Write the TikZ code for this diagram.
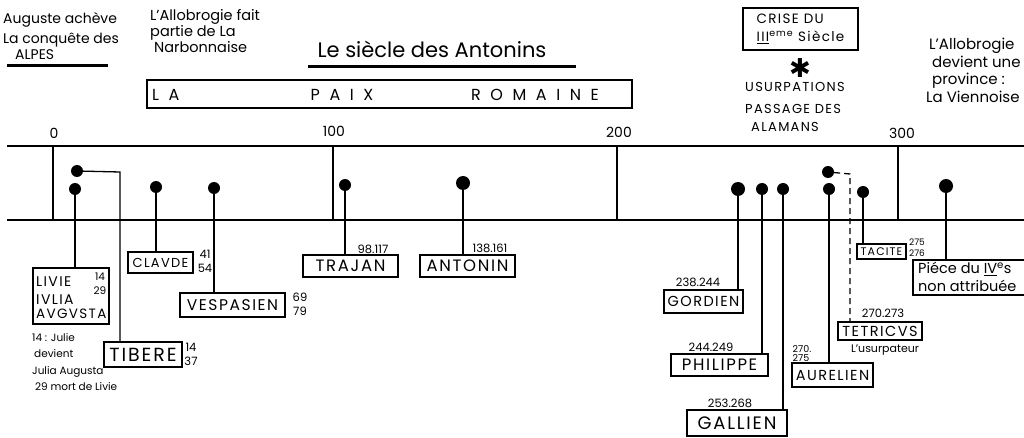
\documentclass[tikz,border=0pt]{standalone}
\usepackage{fontspec}
\setmainfont{Poppins}
\newfontfamily\spaced{Poppins}[LetterSpace=10]
\newfontfamily\wide{Poppins}[LetterSpace=60]
\newfontfamily\symfont{DejaVu Sans}
\begin{document}
\begin{tikzpicture}[x=1pt,y=-1pt,
 hand/.style={inner sep=0pt, font=\fontsize{12}{16}\selectfont, align=left},
 num/.style={inner sep=0pt, font=\fontsize{11.5}{12}\selectfont},
 year/.style={inner sep=0pt, font=\fontsize{14}{14}\selectfont},
 namebox/.style={draw, line width=1.6pt, inner sep=0pt, font=\spaced\fontsize{15}{15}\selectfont},
 dot/.style={circle, fill, inner sep=0pt, minimum size=12pt},
 stem/.style={line width=1.3pt},
 axis/.style={line width=1.4pt},
 thickline/.style={line width=3pt}]
\useasboundingbox (0,0) rectangle (1024,438);
\clip (0,0) rectangle (1024,438);

% ---------- top texts ----------
\node[hand, anchor=north west, font=\fontsize{14}{20}\selectfont] (aug) at (3,12) {Auguste achève\\La conquête des\\[-4pt]\hspace{12pt}ALPES};
\coordinate (ua) at (7,66); \coordinate (ub) at (108,66);
\draw[thickline] (ua) -- (ub);

\node[hand, anchor=north west, font=\fontsize{14.5}{16}\selectfont] (allo) at (150,9) {L'Allobrogie fait\\partie de La\\\hspace{4pt}Narbonnaise};

\node[inner sep=0pt, font=\fontsize{21}{22}\selectfont] (anton) at (432,49) {Le siècle des Antonins};
\coordinate (va) at (308,67); \coordinate (vb) at (576,67);
\draw[thickline] (va) -- (vb);

\node[draw, line width=1.2pt, minimum width=485pt, minimum height=28pt, inner sep=0pt] (paix) at (389.5,94) {};
\node[inner sep=0pt, font=\wide\fontsize{16}{16}\selectfont, anchor=west] (la) at (152,95) {LA};
\node[inner sep=0pt, font=\wide\fontsize{16}{16}\selectfont] (px) at (342,95) {PAIX};
\node[inner sep=0pt, font=\wide\fontsize{16}{16}\selectfont] (rom) at (535,95) {ROMAINE};

\node[draw, line width=1.4pt, minimum width=115pt, minimum height=42pt, inner sep=3pt, align=left, font=\spaced\fontsize{13.5}{18}\selectfont] (crise) at (800.5,29) {CRISE DU\\\underline{III}\textsuperscript{eme} Siècle};
\node[inner sep=0pt, font=\symfont\fontsize{26}{26}\selectfont] (ast) at (800,68) {✱};
\node[hand, anchor=west, font=\spaced\fontsize{13}{13}\selectfont] (usur) at (745,87) {USURPATIONS};
\node[hand, anchor=west, font=\spaced\fontsize{13}{13}\selectfont] (pass) at (745,109) {PASSAGE DES};
\node[hand, anchor=west, font=\spaced\fontsize{13}{13}\selectfont] (alam) at (751,127) {ALAMANS};

\node[hand, anchor=north west, font=\fontsize{15}{17.5}\selectfont] (vien) at (926,38) {\hspace{3pt}L'Allobrogie\\\hspace{6pt}devient une\\\hspace{6pt}province :\\La Viennoise};

% ---------- timeline ----------
\coordinate (La) at (7,146); \coordinate (Ra) at (1024,146);
\coordinate (Lb) at (7,220); \coordinate (Rb) at (1024,220);
\draw[axis] (La) -- (Ra);
\draw[axis] (Lb) -- (Rb);
\coordinate (t0) at (53,146);  \draw[axis] (t0) -- (t0 |- Lb);
\coordinate (t1) at (333,146); \draw[axis] (t1) -- (t1 |- Lb);
\coordinate (t2) at (617,146); \draw[axis] (t2) -- (t2 |- Lb);
\coordinate (t3) at (898,146); \draw[axis] (t3) -- (t3 |- Lb);
\node[year] (y0) at (54,133) {0};
\node[year] (y1) at (334,131) {100};
\node[year] (y2) at (619,132) {200};
\node[year] (y3) at (902,133) {300};

% ---------- dots ----------
\node[dot] (dliv) at (75,189) {};
\node[dot] (dtib) at (77,171) {};
\node[dot] (dcla) at (156,187) {};
\node[dot] (dves) at (214,188) {};
\node[dot] (dtra) at (345,185) {};
\node[dot, minimum size=14pt] (dant) at (463,183) {};
\node[dot, minimum size=14pt] (dgor) at (738,189) {};
\node[dot] (dphi) at (762,189) {};
\node[dot] (dgal) at (783,189) {};
\node[dot] (dtet) at (828,172) {};
\node[dot] (daur) at (829,189) {};
\node[dot] (dtac) at (863,192) {};
\node[dot, minimum size=14pt] (dpie) at (946,186) {};

% ---------- boxes ----------
\node[namebox, minimum width=76pt, minimum height=56pt] (liv) at (71,296) {};
\node[inner sep=0pt, anchor=west, font=\spaced\fontsize{14}{14}\selectfont] (liv1) at (36,282) {LIVIE};
\node[inner sep=0pt, anchor=west, font=\spaced\fontsize{14}{14}\selectfont] (liv2) at (36,300) {IVLIA};
\node[inner sep=0pt, anchor=west, font=\spaced\fontsize{13.5}{13.5}\selectfont] (liv3) at (36,314) {AVGVSTA};
\node[num, font=\fontsize{10.5}{11}\selectfont] (liva) at (100,277) {14};
\node[num, font=\fontsize{10.5}{11}\selectfont] (livb) at (100,291) {29};

\node[hand, anchor=north west, font=\fontsize{10.5}{16.5}\selectfont] (note) at (32,333) {14 : Julie\\\hspace{2pt}devient\\Julia Augusta\\\hspace{3pt}29 mort de Livie};

\node[namebox, minimum width=78pt, minimum height=25pt, font=\spaced\fontsize{19}{19}\selectfont] (tib) at (143,354.5) {TIBERE};
\node[num] (tiba) at (191,347) {14};
\node[num] (tibb) at (191,361) {37};

\node[namebox, minimum width=65pt, minimum height=21pt, font=\spaced\fontsize{13}{13}\selectfont] (cla) at (160.5,262.5) {CLAVDE};
\node[num] (claa) at (205,254) {41};
\node[num] (clab) at (205,268) {54};

\node[namebox, minimum width=105pt, minimum height=24pt, font=\spaced\fontsize{15.5}{15.5}\selectfont] (ves) at (232.5,305) {VESPASIEN};
\node[num] (vesa) at (300,297) {69};
\node[num] (vesb) at (300,311) {79};

\node[namebox, minimum width=95pt, minimum height=22pt, font=\spaced\fontsize{16.5}{16.5}\selectfont] (tra) at (350.5,266) {TRAJAN};
\node[num] (traa) at (373,249) {98.117};

\node[namebox, minimum width=95pt, minimum height=22pt, font=\spaced\fontsize{16.5}{16.5}\selectfont] (ant) at (467.5,266) {ANTONIN};
\node[num] (anta) at (490,248) {138.161};

\node[namebox, minimum width=79pt, minimum height=23pt, font=\spaced\fontsize{14.5}{14.5}\selectfont] (gor) at (703.5,301.5) {GORDIEN};
\node[num] (gora) at (698,282) {238.244};

\node[namebox, minimum width=97pt, minimum height=22pt, font=\spaced\fontsize{16.5}{16.5}\selectfont] (phi) at (719.5,365) {PHILIPPE};
\node[num] (phia) at (711,347) {244.249};

\node[namebox, minimum width=100pt, minimum height=26pt, font=\spaced\fontsize{18}{18}\selectfont] (gal) at (737,423) {GALLIEN};
\node[num] (gala) at (730,403) {253.268};

\node[namebox, minimum width=81pt, minimum height=24pt, font=\spaced\fontsize{14.5}{14.5}\selectfont] (aur) at (832.5,375) {AURELIEN};
\node[num, align=left, font=\fontsize{9.5}{9}\selectfont] (aura) at (802,354) {270.\\275};

\node[namebox, minimum width=84pt, minimum height=18pt, font=\spaced\fontsize{14.5}{14.5}\selectfont] (tet) at (880,331) {TETRICVS};
\node[num] (teta) at (883,313) {270.273};
\node[num, font=\fontsize{11}{11}\selectfont] (tetb) at (885,350) {L'usurpateur};

\node[namebox, minimum width=49pt, minimum height=15pt, font=\spaced\fontsize{11}{11}\selectfont] (tac) at (881.5,251.5) {TACITE};
\node[num, font=\fontsize{9}{9}\selectfont] (taca) at (917,242) {275};
\node[num, font=\fontsize{9}{9}\selectfont] (tacb) at (917,253) {276};

\node[draw, line width=1.6pt, minimum width=122pt, minimum height=35pt, inner sep=0pt] (pie) at (974,277.5) {};
\node[inner sep=0pt, anchor=north west, align=left, font=\fontsize{14.5}{18}\selectfont] (piet) at (918,262) {Piéce du \underline{IV}\textsuperscript{e}s\\non attribuée};

% ---------- stems ----------
\draw[stem] (dliv) -- (dliv |- liv.north);
\coordinate (ctib) at (120,172);
\draw[stem] (dtib) -- (ctib) -- (ctib |- tib.north);
\draw[stem] (dcla) -- (dcla |- cla.north);
\draw[stem] (dves) -- (dves |- ves.north);
\draw[stem] (dtra) -- (dtra |- tra.north);
\draw[stem] (dant) -- (dant |- ant.north);
\draw[stem] (dgor) -- (dgor |- gor.north);
\draw[stem] (dphi) -- (dphi |- phi.north);
\draw[stem] (dgal) -- (dgal |- gal.north);
\draw[stem] (daur) -- (daur |- aur.north);
\coordinate (ctet) at (850,174);
\draw[stem, dashed, dash pattern=on 6pt off 4pt] (dtet) -- (ctet) -- (ctet |- tet.north);
\draw[stem] (dtac) -- (dtac |- tac.north);
\draw[stem] (dpie) -- (dpie |- pie.north);
\end{tikzpicture}
\end{document}
